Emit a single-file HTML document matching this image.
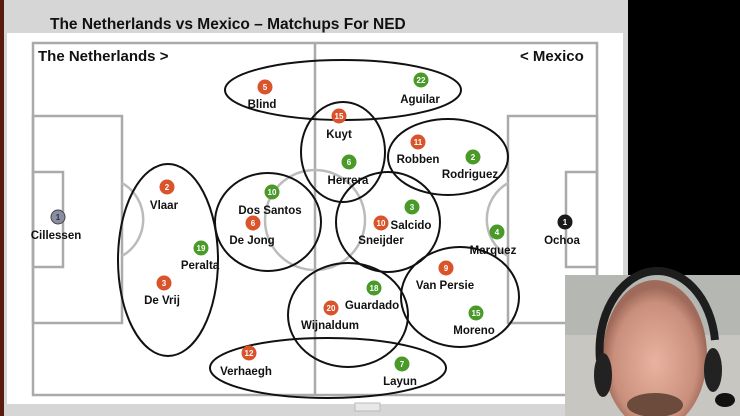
<!DOCTYPE html>
<html><head><style>
html,body{margin:0;padding:0;background:#000;}
svg{display:block;}
text{font-family:"Liberation Sans",sans-serif;font-weight:bold;}
</style></head><body>
<svg width="740" height="416" viewBox="0 0 740 416" xmlns="http://www.w3.org/2000/svg">
<rect x="0" y="0" width="740" height="416" fill="#000"/>
<rect x="0" y="0" width="628" height="416" fill="#d6d6d6"/>
<rect x="0" y="0" width="4" height="416" fill="#5a1a10"/>
<rect x="7" y="33" width="616" height="371" fill="#fff"/>
<text x="50" y="29" font-size="15.5" fill="#111">The Netherlands vs Mexico – Matchups For NED</text>
<g fill="none" stroke="#aaa" stroke-width="2.5">
<rect x="33" y="43" width="564" height="352"/>
<line x1="315" y1="43" x2="315" y2="395"/>
<rect x="33" y="116" width="89" height="207"/>
<rect x="33" y="172" width="30" height="95"/>
<rect x="508" y="116" width="89" height="207"/>
<rect x="566" y="172" width="31" height="95"/>
<circle cx="315" cy="220" r="50" stroke="#bbb"/>
<path d="M122 183 A42 42 0 0 1 122 256" stroke="#bbb"/>
<path d="M508 183 A42 42 0 0 0 508 256" stroke="#bbb"/>
</g>
<text x="38" y="61" font-size="15" fill="#111">The Netherlands &gt;</text>
<text x="520" y="61" font-size="15" fill="#111">&lt; Mexico</text>
<g fill="none" stroke="#111" stroke-width="2">
<ellipse cx="343" cy="90" rx="118" ry="30"/>
<ellipse cx="343" cy="152" rx="42" ry="50"/>
<ellipse cx="448" cy="157" rx="60" ry="38"/>
<ellipse cx="168" cy="260" rx="50" ry="96"/>
<ellipse cx="268" cy="222" rx="53" ry="49"/>
<ellipse cx="388" cy="222" rx="52" ry="50"/>
<ellipse cx="460" cy="297" rx="59" ry="50"/>
<ellipse cx="348" cy="315" rx="60" ry="52"/>
<ellipse cx="328" cy="368" rx="118" ry="30"/>
</g>
<g font-size="8" fill="#fff" text-anchor="middle">
<circle cx="265" cy="87" r="7.5" fill="#d9532b"/><text x="265" y="90">5</text>
<circle cx="421" cy="80" r="7.5" fill="#4a9a2a"/><text x="421" y="83">22</text>
<circle cx="339" cy="116" r="7.5" fill="#d9532b"/><text x="339" y="119">15</text>
<circle cx="349" cy="162" r="7.5" fill="#4a9a2a"/><text x="349" y="165">6</text>
<circle cx="418" cy="142" r="7.5" fill="#d9532b"/><text x="418" y="145">11</text>
<circle cx="473" cy="157" r="7.5" fill="#4a9a2a"/><text x="473" y="160">2</text>
<circle cx="167" cy="187" r="7.5" fill="#d9532b"/><text x="167" y="190">2</text>
<circle cx="272" cy="192" r="7.5" fill="#4a9a2a"/><text x="272" y="195">10</text>
<circle cx="253" cy="223" r="7.5" fill="#d9532b"/><text x="253" y="226">6</text>
<circle cx="58" cy="217" r="7" fill="#8a8ea4" stroke="#444" stroke-width="1"/><text x="58" y="220" fill="#333">1</text>
<circle cx="201" cy="248" r="7.5" fill="#4a9a2a"/><text x="201" y="251">19</text>
<circle cx="164" cy="283" r="7.5" fill="#d9532b"/><text x="164" y="286">3</text>
<circle cx="412" cy="207" r="7.5" fill="#4a9a2a"/><text x="412" y="210">3</text>
<circle cx="381" cy="223" r="7.5" fill="#d9532b"/><text x="381" y="226">10</text>
<circle cx="497" cy="232" r="7.5" fill="#4a9a2a"/><text x="497" y="235">4</text>
<circle cx="565" cy="222" r="7.5" fill="#1a1a1a"/><text x="565" y="225">1</text>
<circle cx="446" cy="268" r="7.5" fill="#d9532b"/><text x="446" y="271">9</text>
<circle cx="476" cy="313" r="7.5" fill="#4a9a2a"/><text x="476" y="316">15</text>
<circle cx="374" cy="288" r="7.5" fill="#4a9a2a"/><text x="374" y="291">18</text>
<circle cx="331" cy="308" r="7.5" fill="#d9532b"/><text x="331" y="311">20</text>
<circle cx="249" cy="353" r="7.5" fill="#d9532b"/><text x="249" y="356">12</text>
<circle cx="402" cy="364" r="7.5" fill="#4a9a2a"/><text x="402" y="367">7</text>
</g>
<g font-size="11.5" fill="#111" text-anchor="middle">
<text x="262" y="108">Blind</text>
<text x="420" y="103">Aguilar</text>
<text x="339" y="138">Kuyt</text>
<text x="348" y="184">Herrera</text>
<text x="418" y="163">Robben</text>
<text x="470" y="178">Rodriguez</text>
<text x="164" y="209">Vlaar</text>
<text x="270" y="214">Dos Santos</text>
<text x="252" y="244">De Jong</text>
<text x="56" y="239">Cillessen</text>
<text x="200" y="269">Peralta</text>
<text x="162" y="304">De Vrij</text>
<text x="411" y="229">Salcido</text>
<text x="381" y="244">Sneijder</text>
<text x="493" y="254">Marquez</text>
<text x="562" y="244">Ochoa</text>
<text x="445" y="289">Van Persie</text>
<text x="474" y="334">Moreno</text>
<text x="372" y="309">Guardado</text>
<text x="330" y="329">Wijnaldum</text>
<text x="246" y="375">Verhaegh</text>
<text x="400" y="385">Layun</text>
</g>
<rect x="355" y="403" width="25" height="8" fill="#e8e8e8" stroke="#bbb"/>
<defs>
<radialGradient id="face" cx="0.5" cy="0.55" r="0.5">
<stop offset="0" stop-color="#e8b3a0"/><stop offset="0.8" stop-color="#c98f7c"/><stop offset="1" stop-color="#a06a5a"/>
</radialGradient>
</defs>
<rect x="565" y="275" width="175" height="141" fill="#c8c6c0"/>
<rect x="565" y="275" width="175" height="60" fill="#b4b7b2"/>
<ellipse cx="655" cy="355" rx="52" ry="75" fill="url(#face)"/>
<path d="M600 360 A55 75 0 0 1 715 340" fill="none" stroke="#1d1d1d" stroke-width="8"/>
<ellipse cx="603" cy="375" rx="9" ry="22" fill="#222"/>
<ellipse cx="713" cy="370" rx="9" ry="22" fill="#222"/>
<ellipse cx="655" cy="405" rx="28" ry="12" fill="#6a4b3c"/>
<ellipse cx="725" cy="400" rx="10" ry="7" fill="#111"/>
</svg>
</body></html>
